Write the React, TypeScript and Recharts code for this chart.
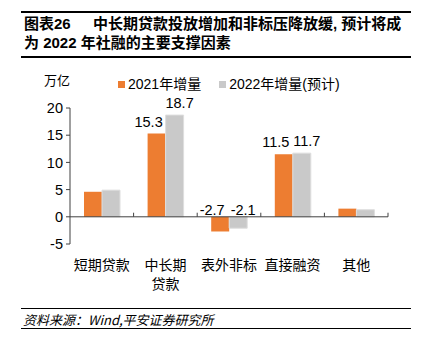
import React from 'react';
import { BarChart, Bar, XAxis, YAxis, ReferenceLine, LabelList } from 'recharts';

const categories = ['短期贷款', '中长期贷款', '表外非标', '直接融资', '其他'];
const increase2021 = [4.6, 15.3, -2.7, 11.5, 1.5];
const increase2022 = [4.9, 18.7, -2.1, 11.7, 1.3];
const labeledCategories = ['中长期贷款', '表外非标', '直接融资'];
const yTicks = [-5, 0, 5, 10, 15, 20];
const seriesNames = ['2021年增量', '2022年增量(预计)'];
const unitLabel = '万亿';
const titleLine1Prefix = '图表26';
const titleLine1 = '中长期贷款投放增加和非标压降放缓, 预计将成';
const titleLine2 = '为 2022 年社融的主要支撑因素';
const sourceText = '资料来源：Wind,平安证券研究所';

const ORANGE = '#ED7D31';
const GRAY = '#C9C9C9';
const FONT = '"Liberation Sans", Arial, "Noto Sans CJK SC", sans-serif';
const CJK = '"Noto Sans CJK SC", "Liberation Sans", sans-serif';
const TITLE = '"Liberation Sans", "Noto Sans CJK SC", sans-serif';

const data = categories.map((c, i) => ({ name: c, pos: i + 0.5, a: increase2021[i], b: increase2022[i] }));
const boundaries = categories.map((_, i) => i + 1);

const makeLabel = (dx: number) => (props: any) => {
  const { x, y, width, height, value, index } = props;
  if (!labeledCategories.includes(categories[index])) return null;
  const top = Math.min(y, y + height);
  const lift = value >= 0 ? 7 : 2;
  return (
    <text x={x + width / 2 + dx} y={top - lift} textAnchor="middle" fontSize={14.5} fontFamily={FONT} fill="#000">
      {value.toFixed(1)}
    </text>
  );
};

const CatTick = (props: any) => {
  const { x, y, payload } = props;
  const name: string = payload.value;
  const lines = name.length > 4 ? [name.slice(0, 3), name.slice(3)] : [name];
  return (
    <text x={x} y={y} textAnchor="middle" fontSize={14} fontFamily={CJK} fill="#000">
      {lines.map((l, i) => (
        <tspan key={i} x={x} dy={i === 0 ? 26 : 19}>{l}</tspan>
      ))}
    </text>
  );
};

export default function App() {
  return (
    <div style={{ position: 'absolute', left: 0, top: 0, width: 427, height: 353, background: '#fff', overflow: 'hidden' }}>
      <div style={{ position: 'absolute', left: 21, top: 11, width: 390, borderTop: '2px solid #000' }} />
      <div style={{ position: 'absolute', left: 24, top: 14, fontFamily: TITLE, fontWeight: 700, fontSize: 15, lineHeight: '19px', color: '#000', whiteSpace: 'nowrap' }}>
        <span>{titleLine1Prefix}</span>
        <span style={{ position: 'absolute', left: 69 }}>{titleLine1}</span>
      </div>
      <div style={{ position: 'absolute', left: 24, top: 33, fontFamily: TITLE, fontWeight: 700, fontSize: 15, lineHeight: '19px', color: '#000', whiteSpace: 'nowrap' }}>
        {titleLine2}
      </div>
      <div style={{ position: 'absolute', left: 21, top: 56, width: 390, borderTop: '2px solid #000' }} />

      <div style={{ position: 'absolute', left: 44, top: 72, fontFamily: CJK, fontSize: 13, lineHeight: '16px', color: '#000' }}>{unitLabel}</div>
      <div style={{ position: 'absolute', left: 118, top: 75, display: 'flex', alignItems: 'center', fontFamily: FONT, fontSize: 14, lineHeight: '18px', color: '#000', whiteSpace: 'nowrap' }}>
        <span style={{ display: 'inline-block', width: 7, height: 7, background: ORANGE, marginRight: 3 }} />
        <span>{seriesNames[0]}</span>
        <span style={{ display: 'inline-block', width: 7, height: 7, background: GRAY, marginLeft: 18, marginRight: 3 }} />
        <span>{seriesNames[1]}</span>
      </div>

      <div style={{ position: 'absolute', left: 0, top: 0 }}>
        <BarChart width={427} height={353} data={data} margin={{ top: 108, right: 39, bottom: 79, left: 0 }} barGap={0} barSize={18}>
          <XAxis xAxisId="cat" dataKey="name" axisLine={false} tickLine={false} tickSize={0} tickMargin={0} height={30} tick={<CatTick />} interval={0} />
          <XAxis xAxisId="num" dataKey="pos" type="number" domain={[0, categories.length]} allowDataOverflow hide />
          <YAxis
            yAxisId="y"
            domain={[-5, 20]}
            ticks={yTicks}
            width={70}
            tickSize={4}
            tickMargin={3}
            axisLine={{ stroke: '#404040' }}
            tickLine={{ stroke: '#404040' }}
            tick={{ fontSize: 14.5, fontFamily: FONT, fill: '#000' }}
            interval={0}
          />
          <ReferenceLine xAxisId="num" yAxisId="y" y={0} stroke="#404040" />
          {boundaries.map((b) => (
            <ReferenceLine key={b} xAxisId="num" yAxisId="y" segment={[{ x: b, y: 0 }, { x: b, y: 0.75 }]} stroke="#404040" ifOverflow="visible" />
          ))}
          <Bar xAxisId="cat" yAxisId="y" dataKey="a" fill={ORANGE} isAnimationActive={false}>
            <LabelList dataKey="a" content={makeLabel(-8)} />
          </Bar>
          <Bar xAxisId="cat" yAxisId="y" dataKey="b" fill={GRAY} stroke="#DEDEDE" strokeWidth={1} isAnimationActive={false}>
            <LabelList dataKey="b" content={makeLabel(5)} />
          </Bar>
        </BarChart>
      </div>

      <div style={{ position: 'absolute', left: 21, top: 308, width: 390, borderTop: '1.5px solid #000' }} />
      <div style={{ position: 'absolute', left: 23, top: 311, fontFamily: CJK, fontStyle: 'italic', fontSize: 13, lineHeight: '17px', color: '#000', whiteSpace: 'nowrap' }}>
        {sourceText}
      </div>
      <div style={{ position: 'absolute', left: 21, top: 328, width: 390, borderTop: '1.5px solid #000' }} />
    </div>
  );
}
